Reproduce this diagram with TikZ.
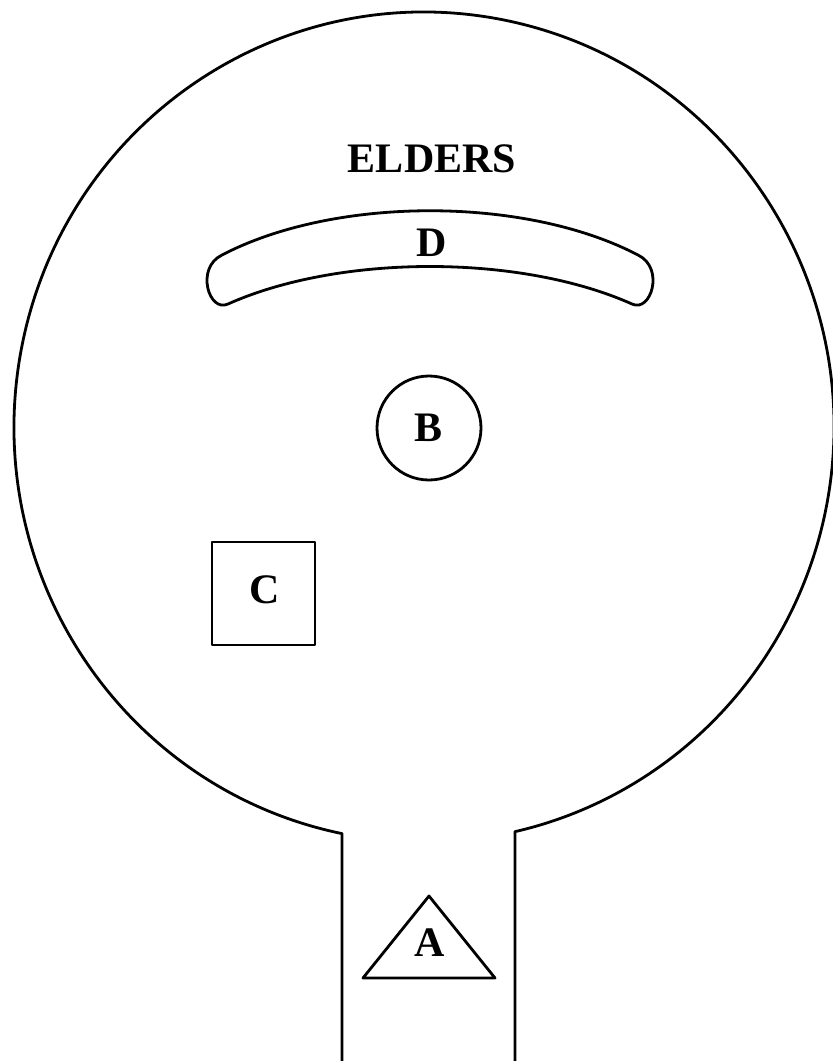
\documentclass[tikz,border=0pt]{standalone}
\usepackage{fontspec}
\setmainfont{Liberation Serif}
\usetikzlibrary{positioning}

\begin{document}
\begin{tikzpicture}[
  x=0.5pt, y=0.5pt,
  outline/.style={line width=1.4pt, line join=round},
  letter/.style={font=\fontsize{21}{24}\selectfont\bfseries, inner sep=0pt},
  roombox/.style={outline, draw, rectangle, minimum size=51.5pt},
  roomdisc/.style={outline, draw, circle, minimum size=52pt}
]
\useasboundingbox (0,0) rectangle (833,-1061);

% enclosure: round hall with the entrance stem
\draw[outline] (342,-1061) -- (342,-833.6)
  arc[start angle=258.46, end angle=-77.18, x radius=410, y radius=415]
  -- (515,-1061);

% the elders' bench
\draw[outline] (222,-255) .. controls (335,-196) and (525,-196) .. (638,-255)
  .. controls (665,-268) and (651,-313) .. (632,-304)
  .. controls (520,-254) and (340,-254) .. (228,-304)
  .. controls (209,-313) and (195,-268) .. (222,-255) -- cycle;
\node[letter] (d) at (432,-243) {D};
\node[letter, above=42pt of d.center, anchor=center] (elders) {ELDERS};

\node[roomdisc] (bdisc) at (429,-428) {};
\node[letter] (b) at (bdisc.center) {B};

\node[roombox] (cbox) at (263.5,-593.5) {};
\node[letter] (c) at (265,-590) {C};

% entrance marker
\draw[outline] (429,-896) -- (495,-978) -- (363,-978) -- cycle;
\node[letter] (a) at (430,-943) {A};
\end{tikzpicture}
\end{document}
